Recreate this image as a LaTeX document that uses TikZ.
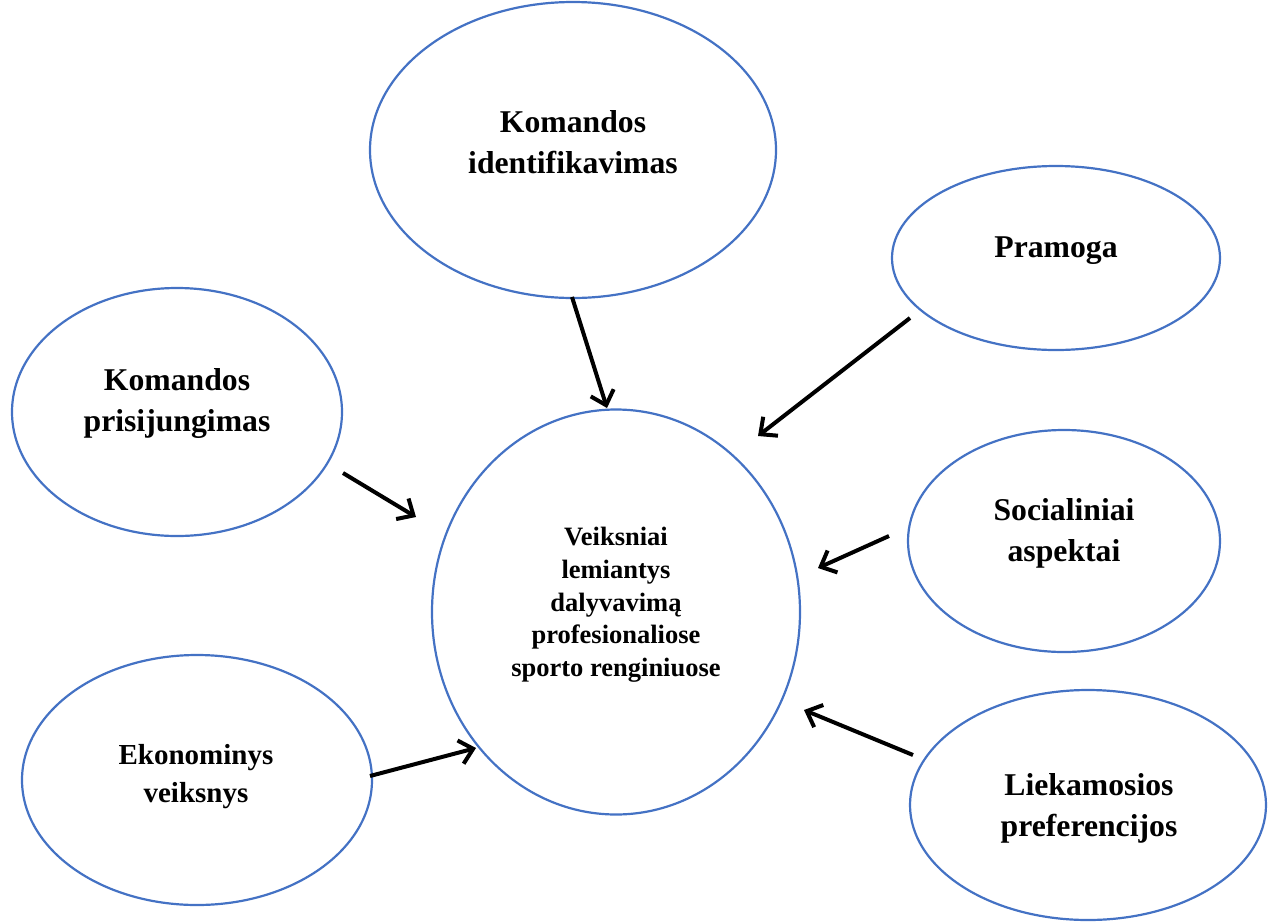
\documentclass[tikz,border=0pt]{standalone}
\usepackage{fontspec}
\setmainfont{Liberation Serif}
\usetikzlibrary{shapes.geometric,arrows.meta}
\definecolor{eblue}{HTML}{4472C4}
\begin{document}
\begin{tikzpicture}[x=1pt,y=-1pt,
  bub/.style={draw=eblue,line width=2.2pt,ellipse,inner sep=0pt},
  lab/.style={font=\bfseries\fontsize{31.7}{41}\selectfont,align=center,inner sep=0pt},
  arr/.style={line width=4pt,-{Straight Barb[length=13pt,width=24pt]}}]
\useasboundingbox (0,0) rectangle (1270,922);
% ellipses
\node[bub,minimum width=406pt,minimum height=296pt] (e1) at (573,150) {};
\node[bub,minimum width=328pt,minimum height=184pt] (e2) at (1056,258) {};
\node[bub,minimum width=330pt,minimum height=248pt] (e3) at (177,412) {};
\node[bub,minimum width=368pt,minimum height=405pt] (ec) at (616,612) {};
\node[bub,minimum width=312pt,minimum height=222pt] (e4) at (1064,541) {};
\node[bub,minimum width=350pt,minimum height=250pt] (e5) at (197,780) {};
\node[bub,minimum width=356pt,minimum height=230pt] (e6) at (1088,805) {};
% labels
\node[lab] (t1) at (573,142) {Komandos\\identifikavimas};
\node[lab] (t2) at (1056,251) {Pramoga};
\node[lab] (t3) at (177,403) {Komandos\\prisijungimas};
\node[lab,font=\bfseries\fontsize{26.5}{32.7}\selectfont] (tc) at (616,605) {Veiksniai\\lemiantys\\dalyvavimą\\profesionaliose\\sporto renginiuose};
\node[lab] (t4) at (1064,533) {Socialiniai\\aspektai};
\node[lab,font=\bfseries\fontsize{29}{38}\selectfont] (t5) at (196,777) {Ekonominys\\veiksnys};
\node[lab] (t6) at (1089,808) {Liekamosios\\preferencijos};
% arrow endpoints
\coordinate (s1) at (572,297); \coordinate (f1) at (607,408);
\coordinate (s2) at (910,318); \coordinate (f2) at (758,436);
\coordinate (s3) at (343,473); \coordinate (f3) at (416,517);
\coordinate (s4) at (889,536); \coordinate (f4) at (818,568);
\coordinate (s5) at (370,776); \coordinate (f5) at (476,748);
\coordinate (s6) at (913,755); \coordinate (f6) at (804,710);
\draw[arr] (s1) -- (f1);
\draw[arr] (s2) -- (f2);
\draw[arr] (s3) -- (f3);
\draw[arr] (s4) -- (f4);
\draw[arr] (s5) -- (f5);
\draw[arr] (s6) -- (f6);
\end{tikzpicture}
\end{document}
